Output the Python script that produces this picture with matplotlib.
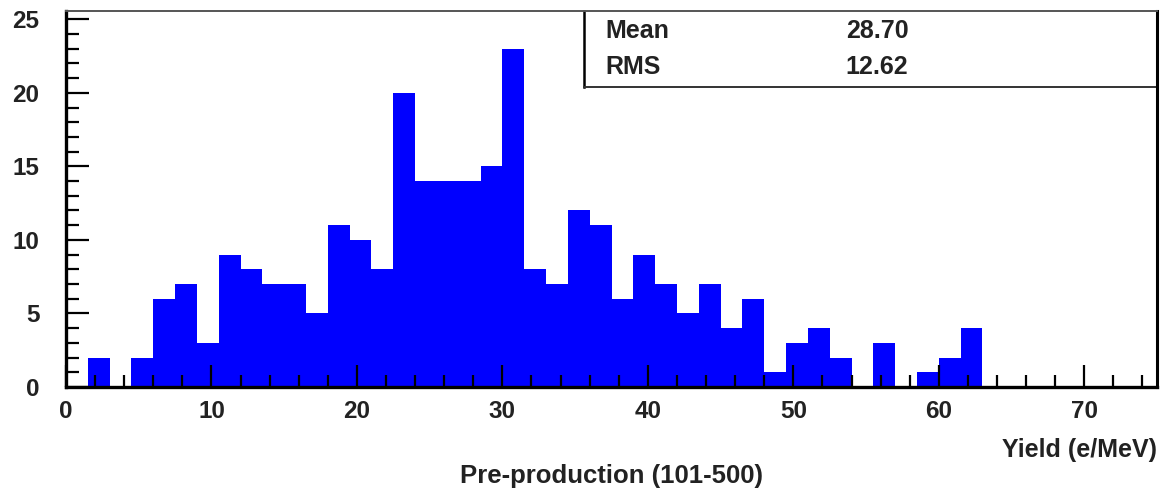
import matplotlib
matplotlib.use('Agg')
import matplotlib.pyplot as plt
import numpy as np
from matplotlib.ticker import MultipleLocator

plt.rcParams['font.family'] = ['Liberation Sans', 'DejaVu Sans']
plt.rcParams['font.weight'] = 'bold'

# histogram contents, 1.5 e/MeV bins from 0 to 75
bin_edges = np.linspace(0, 75, 51)
counts = [0, 2, 0, 2, 6, 7, 3, 9, 8, 7,
          7, 5, 11, 10, 8, 20, 14, 14, 14, 15,
          23, 8, 7, 12, 11, 6, 9, 7, 5, 7,
          4, 6, 1, 3, 4, 2, 0, 3, 0, 1,
          2, 4, 0, 0, 0, 0, 0, 0, 0, 0]
stat_names = ['Mean', 'RMS']
stat_values = ['28.70', '12.62']

W, H = 1164, 498
fig = plt.figure(figsize=(W / 100, H / 100), dpi=100)
ax = fig.add_axes([66 / W, 1 - 387 / H, (1157 - 66) / W, (387 - 11) / H])

ax.stairs(counts, bin_edges, fill=True, color='#0000ff', linewidth=0)

ax.set_xlim(0, 75)
ax.set_ylim(0, 25.56)
ax.xaxis.set_major_locator(MultipleLocator(10))
ax.xaxis.set_minor_locator(MultipleLocator(2))
ax.yaxis.set_major_locator(MultipleLocator(5))
ax.yaxis.set_minor_locator(MultipleLocator(1))
ax.tick_params(which='both', direction='in', width=1.6, color='black',
               top=False, right=False)
ax.tick_params(axis='x', which='major', length=15.5, pad=9, labelsize=17.5)
ax.tick_params(axis='x', which='minor', length=8.5)
ax.tick_params(axis='y', which='major', length=16.5, pad=19, labelsize=17.5)
ax.tick_params(axis='y', which='minor', length=9)
for lab in ax.get_xticklabels() + ax.get_yticklabels():
    lab.set_color('#222222')

ax.spines['left'].set_linewidth(2.4)
ax.spines['bottom'].set_linewidth(2.4)
ax.spines['right'].set_linewidth(2.2)
ax.spines['top'].set_linewidth(1.4)
ax.spines['top'].set_color('#555555')

# stats box in the top right corner
box_x0 = (584 - 66) / (1157 - 66)
box_y0 = (387 - 87) / (387 - 11)
ax.plot([box_x0, box_x0], [box_y0, 1], transform=ax.transAxes,
        color='black', lw=1.8, clip_on=False)
ax.plot([box_x0, 1], [box_y0, box_y0], transform=ax.transAxes,
        color='#333333', lw=1.4, clip_on=False)
name_x = (605 - 66) / (1157 - 66)
val_x = (877 - 66) / (1157 - 66)
for name, val, ypix in zip(stat_names, stat_values, [31, 67.5]):
    yf = (387 - ypix) / (387 - 11)
    ax.text(name_x, yf, name, transform=ax.transAxes, ha='left', va='center',
            fontsize=18, color='#222222')
    ax.text(val_x, yf, val, transform=ax.transAxes, ha='center', va='center',
            fontsize=18, color='#222222')

fig.text(1157 / W, 1 - 450 / H, 'Yield (e/MeV)', ha='right', va='center',
         fontsize=18, color='#222222')
fig.text(612 / W, 1 - 476 / H, 'Pre-production (101-500)', ha='center',
         va='center', fontsize=18.5, color='#222222')

fig.savefig('out.png', dpi=100)
